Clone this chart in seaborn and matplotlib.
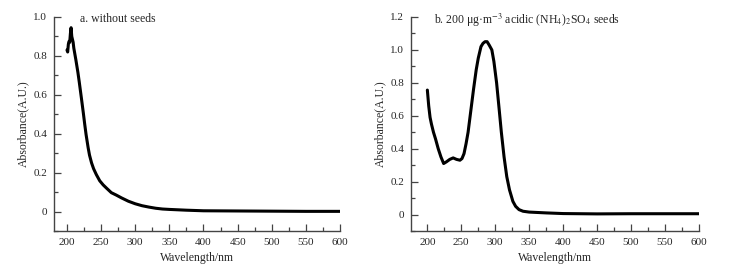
import numpy as np
import pandas as pd
import seaborn as sns
import matplotlib.pyplot as plt
from matplotlib.ticker import MultipleLocator

# panel a: without seeds
wl_a = [200, 201, 202, 203, 204, 205, 206, 207, 208, 209, 210, 213, 216, 218, 221, 224, 226,
        228, 231, 233, 236, 239, 243, 248, 253, 258, 265, 272, 280, 290, 300, 310,
        320, 330, 340, 350, 375, 400, 450, 500, 550, 600]
abs_a = [0.83, 0.82, 0.86, 0.875, 0.87, 0.915, 0.945, 0.90, 0.885, 0.87, 0.84, 0.78, 0.715,
         0.665, 0.586, 0.505, 0.448, 0.395, 0.328, 0.29, 0.25, 0.22, 0.19, 0.158, 0.137,
         0.12, 0.097, 0.085, 0.07, 0.053, 0.04, 0.03, 0.023, 0.017, 0.013, 0.011, 0.007,
         0.004, 0.003, 0.002, 0.001, 0.001]

# panel b: 200 ug/m3 acidic (NH4)2SO4 seeds
wl_b = [200, 202, 204, 206, 209, 212, 216, 220, 224, 228, 233, 238, 243, 248, 251, 254,
        257, 260, 264, 268, 272, 275, 279, 282, 285, 288, 291, 295, 298, 302, 306, 309,
        313, 317, 321, 326, 330, 335, 341, 350, 375, 400, 450, 500, 550, 600]
abs_b = [0.756, 0.66, 0.59, 0.55, 0.50, 0.46, 0.40, 0.35, 0.31, 0.32, 0.335, 0.344, 0.335,
         0.33, 0.34, 0.37, 0.43, 0.50, 0.63, 0.76, 0.88, 0.95, 1.02, 1.04, 1.05, 1.05, 1.03,
         1.00, 0.93, 0.80, 0.63, 0.50, 0.35, 0.23, 0.15, 0.08, 0.05, 0.03, 0.02, 0.015,
         0.01, 0.006, 0.004, 0.005, 0.005, 0.005]

title_a = "a. without seeds"
title_b = r"b. 200 μg·m$^{-3}$ acidic (NH$_4$)$_2$SO$_4$ seeds"

sns.set_style("ticks")
plt.rcParams['font.family'] = ['Liberation Serif', 'DejaVu Serif']
plt.rcParams['mathtext.fontset'] = 'stix'

fig = plt.figure(figsize=(7.38, 2.73), dpi=100)
ax1 = fig.add_axes([0.0732, 0.1538, 0.3875, 0.784])
ax2 = fig.add_axes([0.557, 0.1538, 0.390, 0.784])

df_a = pd.DataFrame({'wl': wl_a, 'abs': abs_a})
df_b = pd.DataFrame({'wl': wl_b, 'abs': abs_b})

sns.lineplot(data=df_a, x='wl', y='abs', ax=ax1, color='black', linewidth=2.2)
sns.lineplot(data=df_b, x='wl', y='abs', ax=ax2, color='black', linewidth=2.2)

for ax, ylim, ytl in [(ax1, (-0.1, 1.0), ['0', '0.2', '0.4', '0.6', '0.8', '1.0']),
                      (ax2, (-0.1, 1.2), ['0', '0.2', '0.4', '0.6', '0.8', '1.0', '1.2'])]:
    ax.set_ylim(*ylim)
    ax.set_yticks(np.arange(0, ylim[1] + 0.01, 0.2))
    ax.set_yticklabels(ytl)
    ax.yaxis.set_minor_locator(MultipleLocator(0.1))
    ax.set_xticks(range(200, 601, 50))
    ax.xaxis.set_minor_locator(MultipleLocator(25))
    ax.tick_params(which='major', direction='in', length=5, width=0.9, labelsize=8, pad=5,
                   color='#444444')
    ax.tick_params(which='minor', direction='in', length=3, width=0.9, color='#444444')
    ax.set_xlabel('Wavelength/nm', fontsize=8.5, labelpad=3.5)
    ax.set_ylabel('Absorbance(A.U.)', fontsize=8.5, labelpad=3)
    for s in ['left', 'bottom']:
        ax.spines[s].set_color('#444444')
        ax.spines[s].set_linewidth(1.0)
    sns.despine(ax=ax)

ax1.set_xlim(181, 600)
ax2.set_xlim(176, 600)

ax1.text(0.092, 0.99, title_a, transform=ax1.transAxes, fontsize=8.5, va='center', ha='left')
ax2.text(0.078, 0.985, title_b, transform=ax2.transAxes, fontsize=8.5, va='center', ha='left')

fig.savefig('out.png', dpi=100)
